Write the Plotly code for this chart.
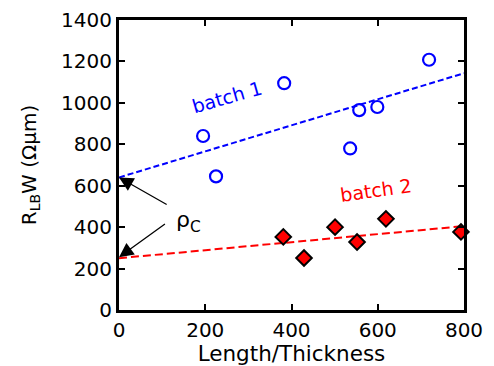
import plotly.graph_objects as go

# Data
batch1_x = [195, 225, 383, 536, 557, 599, 719]
batch1_y = [840, 645, 1095, 780, 965, 980, 1208]
batch2_x = [381, 429, 501, 552, 619, 793]
batch2_y = [353, 251, 400, 328, 440, 377]
fit_x = [0, 800]
fit1_y = [640, 1143]
fit2_y = [250, 405]
x_ticks = [0, 200, 400, 600, 800]
y_ticks = [0, 200, 400, 600, 800, 1000, 1200, 1400]

FONT = "DejaVu Sans"

fig = go.Figure()
fig.add_trace(go.Scatter(x=fit_x, y=fit1_y, mode="lines",
                         line=dict(color="#0000ff", width=2, dash="6px,3px"), showlegend=False))
fig.add_trace(go.Scatter(x=fit_x, y=fit2_y, mode="lines",
                         line=dict(color="#ff0000", width=2, dash="8px,4px"), showlegend=False))
fig.add_trace(go.Scatter(x=batch1_x, y=batch1_y, mode="markers",
                         marker=dict(symbol="circle-open", size=12, color="#0000ff",
                                     line=dict(width=2.2, color="#0000ff")),
                         showlegend=False, cliponaxis=False))
fig.add_trace(go.Scatter(x=batch2_x, y=batch2_y, mode="markers",
                         marker=dict(symbol="diamond", size=12, color="#ff0000",
                                     line=dict(width=2, color="black")),
                         showlegend=False, cliponaxis=False))

fig.add_annotation(x=250, y=1030, text="batch 1", showarrow=False, textangle=-16,
                   font=dict(family=FONT, size=19, color="#0000ff"))
fig.add_annotation(x=596, y=580, text="batch 2", showarrow=False, textangle=-8,
                   font=dict(family=FONT, size=19, color="#ff0000"))
fig.add_annotation(x=160, y=425, text="ρ<sub>C</sub>", showarrow=False,
                   font=dict(family=FONT, size=22, color="black"))
fig.add_annotation(x=0, y=640, ax=114, ay=505, axref="x", ayref="y", xref="x", yref="y",
                   text="", showarrow=True, arrowhead=2, arrowsize=2.2, arrowwidth=1.3,
                   arrowcolor="black")
fig.add_annotation(x=0, y=255, ax=110, ay=420, axref="x", ayref="y", xref="x", yref="y",
                   text="", showarrow=True, arrowhead=2, arrowsize=2.2, arrowwidth=1.3,
                   arrowcolor="black")

axis_common = dict(showgrid=False, zeroline=False, showline=True, linecolor="black",
                   linewidth=3, mirror="ticks", ticks="inside", ticklen=6, tickwidth=1.5,
                   tickcolor="black", automargin=False,
                   tickfont=dict(family=FONT, size=20, color="black"))
fig.update_xaxes(range=[0, 800], tickvals=x_ticks,
                 title=dict(text="Length/Thickness", font=dict(family=FONT, size=21.5, color="black"),
                            standoff=2),
                 **axis_common)
fig.update_yaxes(range=[0, 1400], tickvals=y_ticks,
                 title=dict(text="R<sub>LB</sub>W (Ωμm)", font=dict(family=FONT, size=20, color="black"),
                            standoff=20),
                 **axis_common)

fig.update_layout(width=486, height=358, margin=dict(l=111, r=30, t=12, b=56),
                  plot_bgcolor="white", paper_bgcolor="white",
                  font=dict(family=FONT, color="black"))

fig.write_html("out.html")
